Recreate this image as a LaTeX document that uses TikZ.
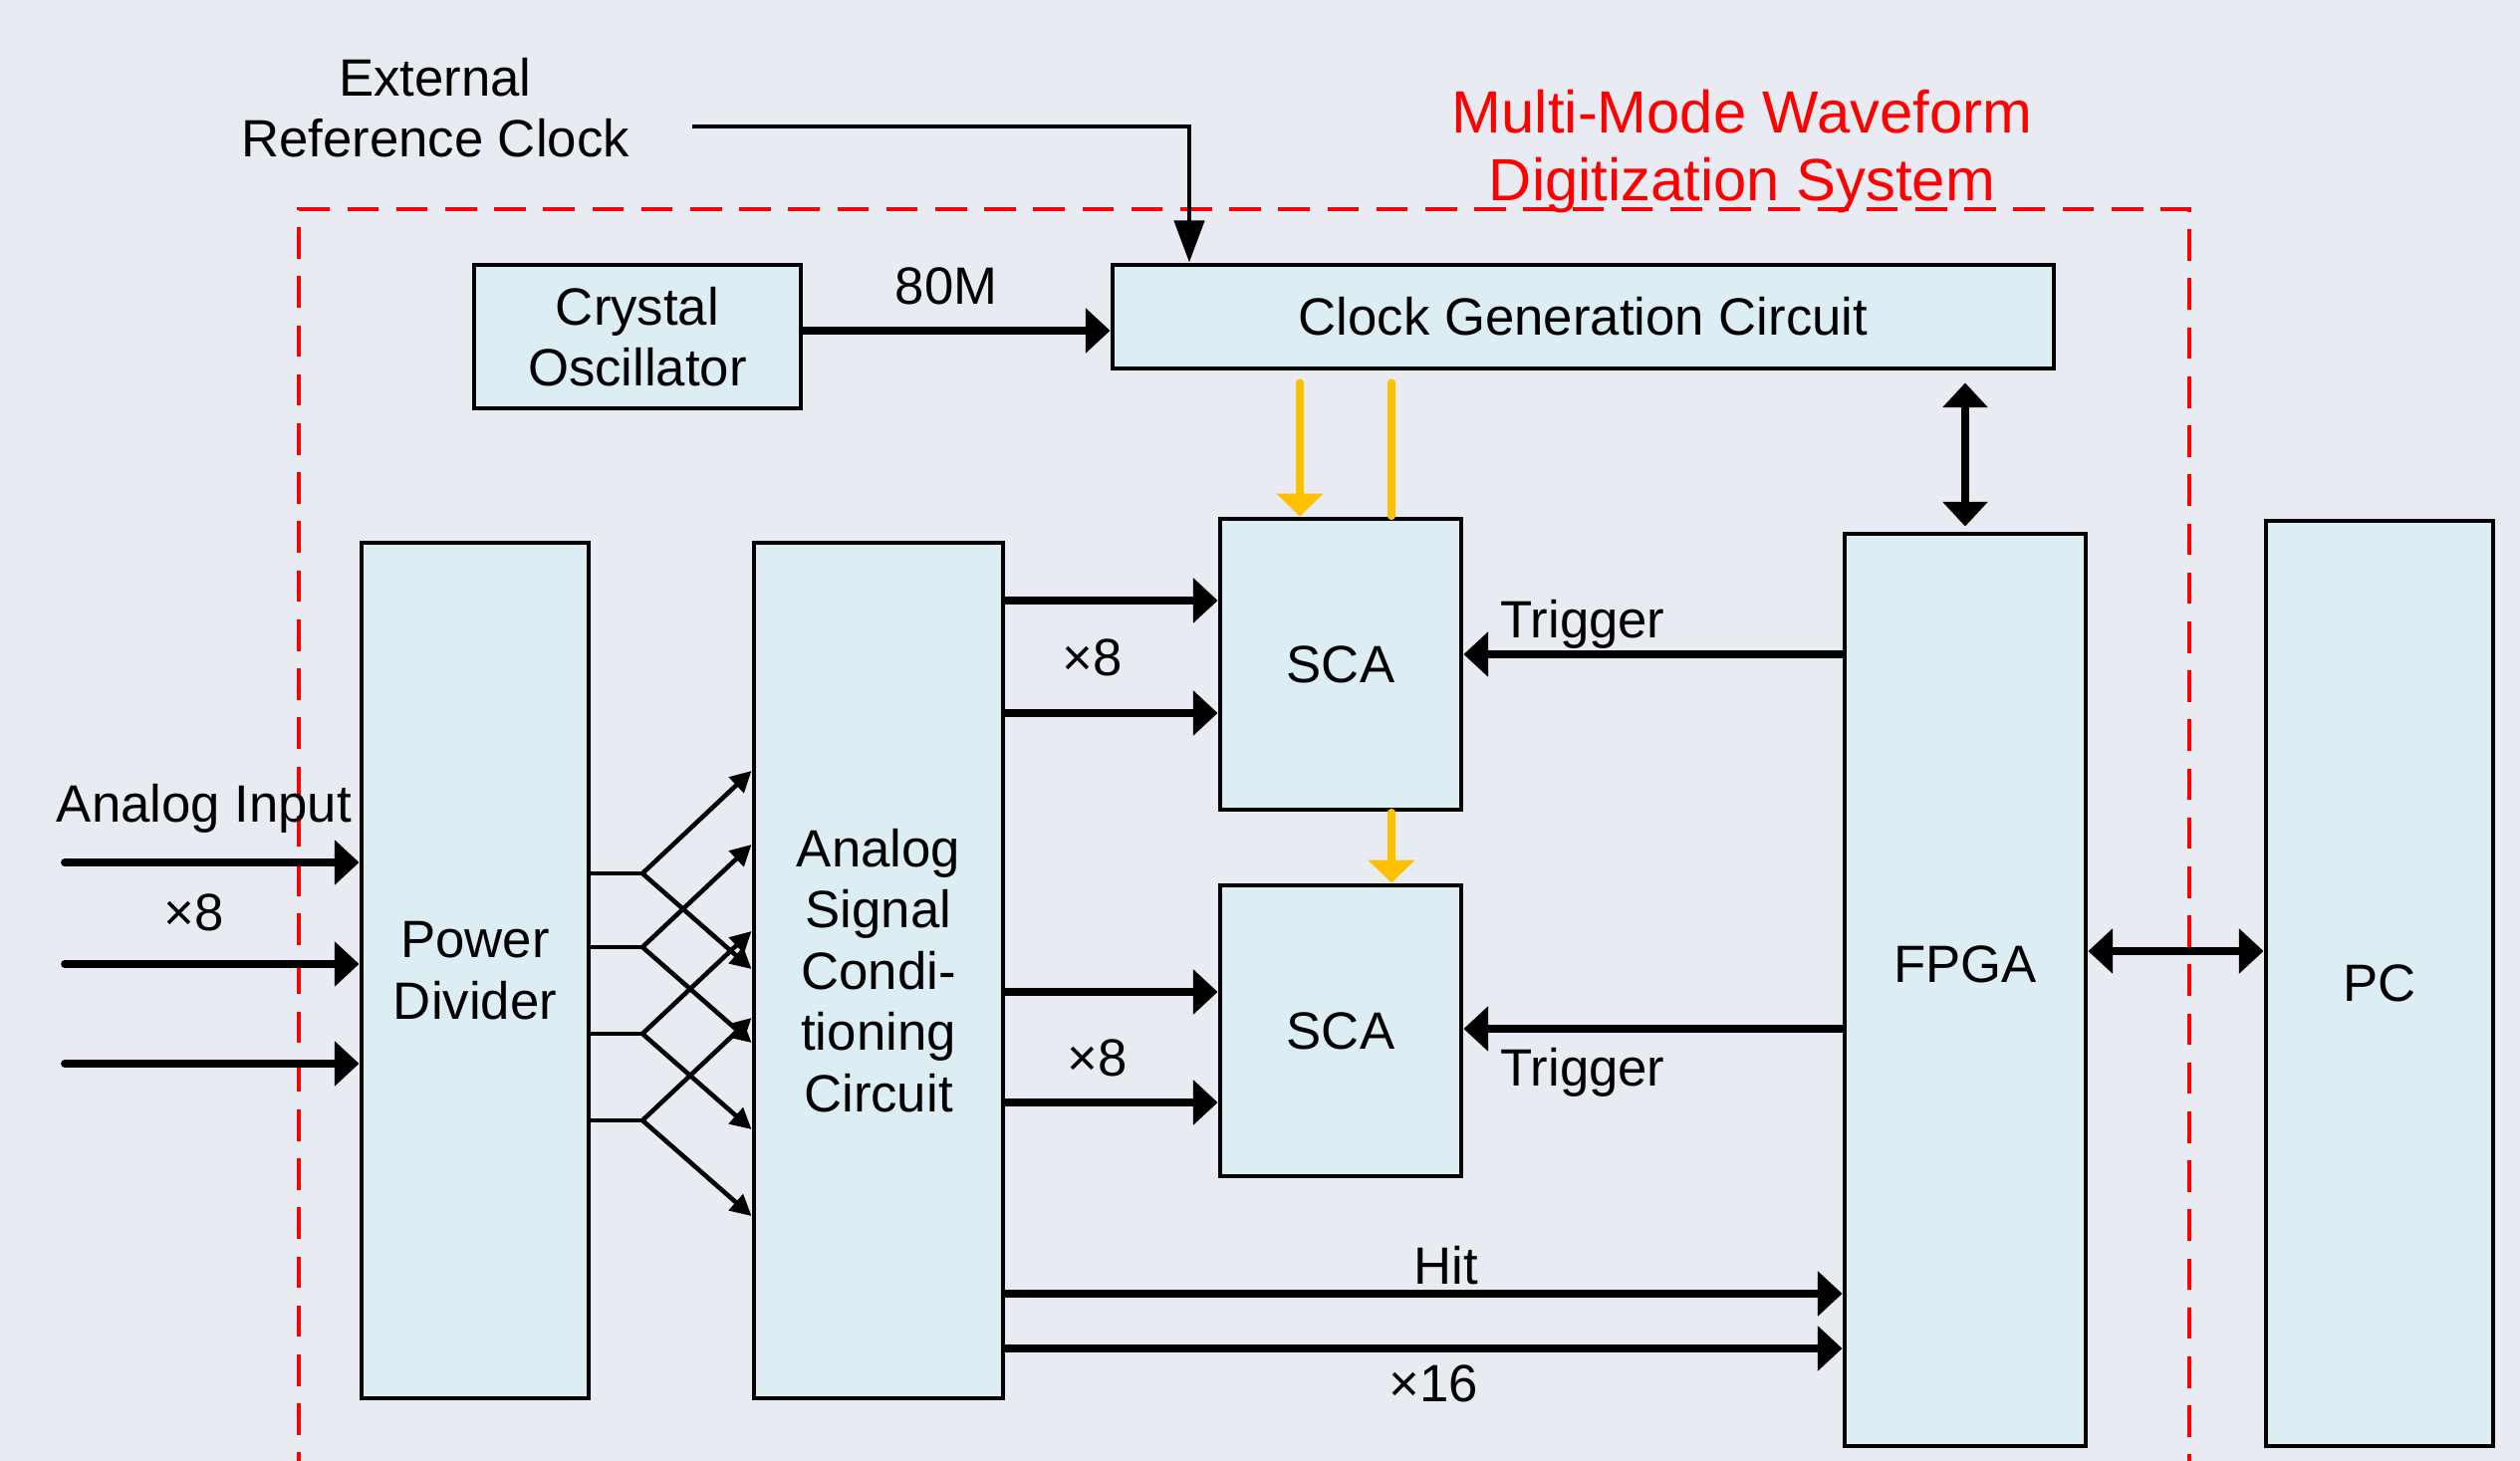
\documentclass[tikz,border=0pt]{standalone}
\usepackage{fontspec}
\setmainfont{Liberation Sans}
\usepackage{xcolor}
\usepackage{tikz}
\usetikzlibrary{arrows.meta,calc}

\definecolor{bgcol}{RGB}{233,235,242}
\definecolor{boxcol}{RGB}{220,237,243}
\definecolor{clkcol}{RGB}{255,192,0}
\definecolor{syscol}{RGB}{255,0,0}

\begin{document}
\begin{tikzpicture}[
font=\fontsize{15}{17.5}\selectfont,
box/.style={draw, line width=1.4pt, fill=boxcol, align=center, inner sep=0pt},
arr/.style={-{Triangle[length=7pt,width=12.5pt]}, line width=2.2pt},
biarr/.style={{Triangle[length=7pt,width=12.5pt]}-{Triangle[length=7pt,width=12.5pt]}, line width=2.2pt},
fan/.style={-{Triangle[length=6pt,width=6pt]}, line width=1.3pt},
ext/.style={-{Triangle[length=12pt,width=8.5pt]}, line width=1.4pt},
clk/.style={-{Triangle[length=6.5pt,width=13pt]}, line width=2pt, color=clkcol, line cap=round},
lbl/.style={inner sep=0pt, align=center}
]
\fill[bgcol] (0,0) rectangle (25.30,-14.67);
\useasboundingbox (0,0) rectangle (25.30,-14.67);

% system frame
\draw[syscol, line width=1.3pt, dash pattern=on 9pt off 5pt]
  (3.00,-14.9) -- (3.00,-2.10) -- (21.98,-2.10) -- (21.98,-14.9);
\node[lbl, text=syscol, font=\fontsize{17}{19.5}\selectfont] (systitle) at (17.49,-1.52) {Multi-Mode Waveform\\Digitization System};

% blocks
\node[box, minimum width=3.28cm, minimum height=1.44cm] (crystal) at (6.40,-3.38) {Crystal\\Oscillator};
\node[box, minimum width=9.45cm, minimum height=1.04cm] (clockgen) at (15.895,-3.18) {Clock Generation Circuit};
\node[box, minimum width=2.28cm, minimum height=8.59cm] (pd) at (4.77,-9.745) {Power\\Divider};
\node[box, minimum width=2.50cm, minimum height=8.59cm] (asc) at (8.82,-9.745) {Analog\\Signal\\Condi-\\tioning\\Circuit};
\node[box, minimum width=2.42cm, minimum height=2.92cm] (sca1) at (13.46,-6.67) {SCA};
\node[box, minimum width=2.42cm, minimum height=2.92cm] (sca2) at (13.46,-10.35) {SCA};
\node[box, minimum width=2.42cm, minimum height=9.16cm, label={[lbl, yshift=0.26cm]center:FPGA}] (fpga) at (19.73,-9.94) {};
\node[box, minimum width=2.28cm, minimum height=9.29cm] (pc) at (23.89,-9.875) {PC};

% external clock
\node[lbl] (extclk) at (4.37,-1.08) {External\\Reference Clock};
\coordinate (extin) at (6.95,-1.27);
\draw[ext] (extin) -| (11.94,0 |- clockgen.north);

% clocks
\draw[arr] (crystal.east |- 0,-3.32) -- (clockgen.west |- 0,-3.32);
\node[lbl] (l80m) at (9.50,-2.87) {80M};
\coordinate (ck1) at (13.05,-3.84);
\coordinate (ck2) at (13.97,-3.84);
\draw[clk] (ck1) -- (ck1 |- sca1.north);
\draw[clk, -] (ck2) -- (ck2 |- sca1.north);
\draw[clk] (ck2 |- sca1.south) -- (ck2 |- sca2.north);
\draw[biarr, shorten <=0.12cm, shorten >=0.05cm] (fpga.north |- clockgen.south) -- (fpga.north);

% analog inputs
\node[lbl] (ainlbl) at (2.05,-8.12) {Analog Input};
\node[lbl] (ainx8) at (1.95,-9.16) {×8};
\foreach \y [count=\i] in {8.66,9.68,10.68}{
  \coordinate (in\i) at (0.65,-\y);
  \draw[arr, line cap=round] (in\i) -- (in\i -| pd.west);
}

% power divider fan-out
\foreach \y [count=\i] in {8.77,9.51,10.38,11.25}{
  \coordinate (sp\i) at (6.45,-\y);
  \draw[line width=1.3pt] (pd.east |- sp\i) -- (sp\i);
  \draw[fan] (sp\i) -- ($(asc.west |- sp\i)+(0,1.03)$);
  \draw[fan] (sp\i) -- ($(asc.west |- sp\i)+(0,-0.96)$);
}

% to SCA
\foreach \y in {6.03,7.16}
  \draw[arr] (asc.east |- 0,-\y) -- (sca1.west |- 0,-\y);
\foreach \y in {9.96,11.07}
  \draw[arr] (asc.east |- 0,-\y) -- (sca2.west |- 0,-\y);
\node[lbl] (x8a) at (10.97,-6.60) {×8};
\node[lbl] (x8b) at (11.02,-10.62) {×8};

% trigger
\draw[arr] (fpga.west |- 0,-6.57) -- (sca1.east |- 0,-6.57);
\draw[arr] (fpga.west |- 0,-10.33) -- (sca2.east |- 0,-10.33);
\node[lbl] (trga) at (15.89,-6.27) {Trigger};
\node[lbl] (trgb) at (15.89,-10.77) {Trigger};

% hit
\draw[arr] (asc.east |- 0,-12.99) -- (fpga.west |- 0,-12.99);
\draw[arr] (asc.east |- 0,-13.54) -- (fpga.west |- 0,-13.54);
\node[lbl] (hitlbl) at (14.52,-12.71) {Hit};
\node[lbl] (x16) at (14.39,-13.89) {×16};

% PC link
\draw[biarr] (fpga.east |- 0,-9.55) -- (pc.west |- 0,-9.55);
\end{tikzpicture}
\end{document}
